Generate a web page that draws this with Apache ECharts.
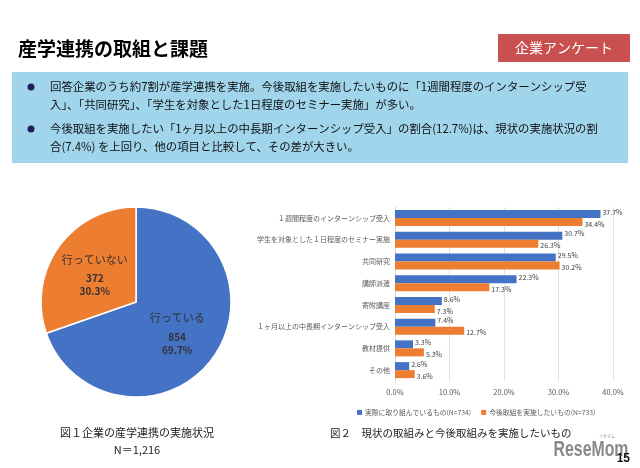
<!DOCTYPE html>
<html><head><meta charset="utf-8">
<script src="https://cdn.jsdelivr.net/npm/echarts@6/dist/echarts.min.js"></script>
<style>html,body{margin:0;padding:0;background:#fff}#c{width:640px;height:468px}</style>
</head><body><div id="c"></div>
<script>
const pieNames = ['行っている', '行っていない'];
const pieValues = [854, 372];
const categories = ['１週間程度のインターンシップ受入', '学生を対象とした１日程度のセミナー実施', '共同研究', '講師派遣', '寄附講座', '１ヶ月以上の中長期インターンシップ受入', '教材提供', 'その他'];
const seriesNames = ['実際に取り組んでいるもの(N=734)', '今後取組を実施したいもの(N=733)'];
const currentValues = [37.7, 30.7, 29.5, 22.3, 8.6, 7.4, 3.3, 2.6];
const futureValues = [34.4, 26.3, 30.2, 17.3, 7.3, 12.7, 5.3, 3.6];
const xTicks = [0, 10, 20, 30, 40];

const JP = '"Noto Sans CJK JP", "Noto Sans", sans-serif';
const chart = echarts.init(document.getElementById('c'));
const bulletLines = [
  ['回答企業のうち約7割が産学連携を実施。今後取組を実施したいものに「1週間程度のインターンシップ受', 87],
  ['入」、「共同研究」、「学生を対象とした1日程度のセミナー実施」が多い。', 105],
  ['今後取組を実施したい「1ヶ月以上の中長期インターンシップ受入」の割合(12.7%)は、現状の実施状況の割', 129],
  ['合(7.4%) を上回り、他の項目と比較して、その差が大きい。', 147]
];
const graphics = [
  {type:'text', left:18, top:39, style:{text:'産学連携の取組と課題', font:'bold 19px ' + JP, fill:'#000'}},
  {type:'rect', shape:{x:498, y:34, width:132, height:28}, style:{fill:'#C9504F'}},
  {type:'text', x:564, y:48, style:{text:'企業アンケート', font:'14px ' + JP, fill:'#fff', align:'center', verticalAlign:'middle'}},
  {type:'rect', shape:{x:12, y:72, width:616, height:91}, style:{fill:'#A0D5EC'}},
  {type:'circle', shape:{cx:31, cy:87, r:3.5}, style:{fill:'#1F1F5F'}},
  {type:'circle', shape:{cx:31, cy:129, r:3.5}, style:{fill:'#1F1F5F'}},
  {type:'text', x:137, y:433, style:{text:'図１企業の産学連携の実施状況', font:'11px ' + JP, fill:'#222', align:'center', verticalAlign:'middle'}},
  {type:'text', x:137, y:450, style:{text:'N＝1,216', font:'11px ' + JP, fill:'#222', align:'center', verticalAlign:'middle'}},
  {type:'text', x:330, y:433, style:{text:'図２　現状の取組みと今後取組みを実施したいもの', font:'10.5px ' + JP, fill:'#222', align:'left', verticalAlign:'middle'}},
  {type:'text', x:607, y:436, style:{text:'リセマム', font:'4px ' + JP, fill:'#888', align:'center', verticalAlign:'middle'}},
  {type:'text', x:591, y:450, scaleX:0.72, style:{text:'ReseMom', font:'bold 22px "Liberation Sans", "DejaVu Sans", sans-serif', fill:'#8a8a8a', align:'center', verticalAlign:'middle'}},
  {type:'text', x:630, y:459, style:{text:'15', font:'bold 12px "Liberation Sans", sans-serif', fill:'#111', align:'right', verticalAlign:'middle'}}
];
bulletLines.forEach(([t, y]) => graphics.push({type:'text', x:50, y:y, style:{text:t, font:'11.4px ' + JP, fill:'#111', verticalAlign:'middle'}}));

chart.setOption({
  animation:false,
  textStyle:{fontFamily:JP},
  graphic:graphics,
  grid:{left:395, right:27, top:207, height:174, containLabel:false},
  legend:{left:352, top:404, itemWidth:5, itemHeight:5, itemGap:10, icon:'rect',
    textStyle:{fontSize:6.8, color:'#595959', fontFamily:JP, padding:[0,0,0,-2]}, data:seriesNames},
  xAxis:{type:'value', min:0, max:40, interval:10,
    axisLabel:{formatter:v => v.toFixed(1) + '%', fontSize:7.5, color:'#595959', margin:7},
    splitLine:{lineStyle:{color:'#D9D9D9', width:0.8}}, axisLine:{show:false}, axisTick:{show:false}},
  yAxis:{type:'category', inverse:true, data:categories,
    axisLabel:{fontSize:7, color:'#595959', margin:5},
    axisLine:{lineStyle:{color:'#D9D9D9'}}, axisTick:{show:false}},
  series:[
    {name:seriesNames[0], type:'bar', data:currentValues, barWidth:8, barGap:'0%',
      itemStyle:{color:'#4472C4'},
      label:{show:true, position:'right', distance:2, offset:[0,-2], formatter:p => p.value.toFixed(1) + '%', fontSize:7, color:'#404040'}},
    {name:seriesNames[1], type:'bar', data:futureValues, barWidth:8,
      itemStyle:{color:'#ED7D31'},
      label:{show:true, position:'right', distance:2, offset:[0,2], formatter:p => p.value.toFixed(1) + '%', fontSize:7, color:'#404040'}},
    {type:'pie', center:[136, 302], radius:[0, 95], startAngle:90, clockwise:true,
      itemStyle:{borderColor:'#fff', borderWidth:1.5},
      data:pieNames.map((n, i) => ({name:n, value:pieValues[i], itemStyle:{color:['#4472C4', '#ED7D31'][i]}})),
      label:{show:true, position:'inside', formatter:p => '{n|' + p.name + '}\n{v|' + p.value + '}\n{v|' + p.percent.toFixed(1) + '%}',
        rich:{n:{fontSize:11, color:'#333', lineHeight:24}, v:{fontSize:10, fontWeight:'bold', color:'#333', lineHeight:13}}},
      labelLine:{show:false}}
  ]
});
</script></body></html>
